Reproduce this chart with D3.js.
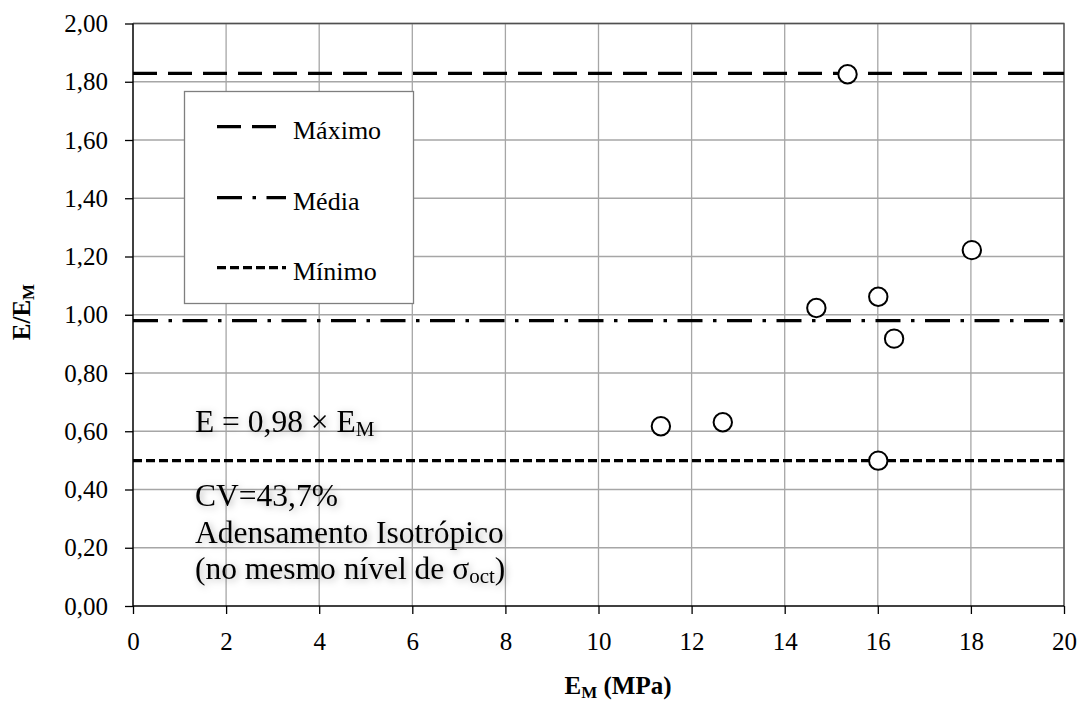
<!DOCTYPE html>
<html>
<head>
<meta charset="utf-8">
<script src="https://cdn.jsdelivr.net/npm/d3@7"></script>
<style>
  html, body { margin: 0; padding: 0; background: #fff; }
  svg, svg text { font-family: "Liberation Serif", "Times New Roman", serif; }
  svg { display: block; }
</style>
</head>
<body>
<svg id="chart" width="1079" height="704"></svg>
<script>
// Ensaios: módulo E_M (MPa) e razão E/E_M
const emValues = [11.34, 12.67, 14.68, 16.01, 16.35, 18.02, 16.01, 15.35];
const ratioValues = [0.617, 0.631, 1.023, 1.062, 0.918, 1.222, 0.499, 1.826];

// Linhas de referência
const refNames = ["Máximo", "Média", "Mínimo"];
const refValues = [1.829, 0.98, 0.499];

// Marcações dos eixos
const xTicks = [0, 2, 4, 6, 8, 10, 12, 14, 16, 18, 20];
const yTicks = [0, 0.2, 0.4, 0.6, 0.8, 1.0, 1.2, 1.4, 1.6, 1.8, 2.0];

const serif = "'Liberation Serif', 'Times New Roman', serif";
const svg = d3.select("#chart").attr("font-family", serif);
const pLeft = 133, pRight = 1064, pTop = 23.5, pBottom = 606;

const x = d3.scaleLinear().domain([0, 20]).range([pLeft, pRight]);
const y = d3.scaleLinear().domain([0, 2]).range([pBottom, pTop]);
const fmt = d => d3.format(".2f")(d).replace(".", ",");

// sombra suave do texto de anotação
const defs = svg.append("defs");
const f = defs.append("filter").attr("id", "softShadow")
  .attr("x", "-10%").attr("y", "-30%").attr("width", "130%").attr("height", "170%");
f.append("feDropShadow").attr("dx", 2).attr("dy", 2).attr("stdDeviation", 3.5)
  .attr("flood-color", "#000").attr("flood-opacity", 0.3);
defs.append("clipPath").attr("id", "plotClip").append("rect")
  .attr("x", pLeft).attr("y", pTop).attr("width", pRight - pLeft).attr("height", pBottom - pTop);

// grade
const grid = svg.append("g").attr("stroke", "#a6a6a6").attr("stroke-width", 1.3);
grid.selectAll("line.v").data(xTicks.slice(1)).join("line")
  .attr("x1", d => x(d)).attr("x2", d => x(d)).attr("y1", pTop).attr("y2", pBottom);
grid.selectAll("line.h").data(yTicks.slice(1)).join("line")
  .attr("x1", pLeft).attr("x2", pRight).attr("y1", d => y(d)).attr("y2", d => y(d));

// borda superior e direita
svg.append("path")
  .attr("d", `M${pLeft},${pTop}H${pRight}V${pBottom}`)
  .attr("fill", "none").attr("stroke", "#505050").attr("stroke-width", 1.3);

// eixos
const xAxis = svg.append("g").attr("transform", `translate(0,${pBottom})`)
  .call(d3.axisBottom(x).tickValues(xTicks).tickSize(8).tickPadding(26).tickFormat(d3.format("d")));
const yAxis = svg.append("g").attr("transform", `translate(${pLeft},0)`)
  .call(d3.axisLeft(y).tickValues(yTicks).tickSize(8).tickPadding(17).tickFormat(fmt));
[xAxis, yAxis].forEach(a => {
  a.attr("font-family", serif).attr("font-size", 25);
  a.select(".domain").attr("stroke", "#000").attr("stroke-width", 1.5);
  a.selectAll(".tick line").attr("stroke", "#000").attr("stroke-width", 1.3);
  a.selectAll(".tick text").attr("fill", "#000");
});
xAxis.selectAll(".tick text").attr("dy", "0.71em").attr("y", 26);
xAxis.select(".domain").attr("d", `M${pLeft},0H${pRight}`);
yAxis.select(".domain").attr("d", `M0,${pTop}V${pBottom}`);

// estilos das linhas de referência
const refStyles = [
  { dash: "24,11" },
  { dash: "25,10.5,3.5,10.5" },
  { dash: "9,4" }
];

const plot = svg.append("g").attr("clip-path", "url(#plotClip)");
plot.selectAll("line.ref").data(refValues).join("line")
  .attr("x1", pLeft).attr("x2", pRight)
  .attr("y1", d => y(d)).attr("y2", d => y(d))
  .attr("stroke", "#000").attr("stroke-width", 3.2)
  .attr("stroke-dasharray", (d, i) => refStyles[i].dash);

// pontos
svg.append("g").selectAll("circle").data(emValues).join("circle")
  .attr("cx", d => x(d)).attr("cy", (d, i) => y(ratioValues[i])).attr("r", 9.2)
  .attr("fill", "#fff").attr("stroke", "#000").attr("stroke-width", 2);

// legenda
const lg = svg.append("g");
lg.append("rect").attr("x", 184.5).attr("y", 91.5).attr("width", 229).attr("height", 212)
  .attr("fill", "#fff").attr("stroke", "#7f7f7f").attr("stroke-width", 1.3);
const legendY = [126.7, 197.7, 267.7];
const legendEnd = [279, 286, 286];
refNames.forEach((name, i) => {
  lg.append("line").attr("x1", 217).attr("x2", legendEnd[i])
    .attr("y1", legendY[i]).attr("y2", legendY[i])
    .attr("stroke", "#000").attr("stroke-width", 3.2)
    .attr("stroke-dasharray", refStyles[i].dash);
  lg.append("text").attr("x", 293).attr("y", legendY[i] + 12.5)
    .attr("font-size", 26).text(name);
});

// anotações
const note = svg.append("g").attr("font-size", 31.5).attr("filter", "url(#softShadow)");
const t1 = note.append("text").attr("x", 195).attr("y", 432);
t1.append("tspan").text("E = 0,98 × E");
t1.append("tspan").attr("font-size", 21).attr("dy", 4).text("M");
note.append("text").attr("x", 195).attr("y", 506).text("CV=43,7%");
note.append("text").attr("x", 195).attr("y", 542.5).text("Adensamento Isotrópico");
const t4 = note.append("text").attr("x", 195).attr("y", 578.5);
t4.append("tspan").text("(no mesmo nível de σ");
t4.append("tspan").attr("font-size", 21).attr("dy", 4).text("oct");
t4.append("tspan").attr("dy", -4).text(")");

// títulos dos eixos
const xt = svg.append("text").attr("x", 618).attr("y", 694).attr("text-anchor", "middle")
  .attr("font-size", 25).attr("font-weight", "bold");
xt.append("tspan").text("E");
xt.append("tspan").attr("font-size", 17).attr("dy", 4).text("M");
xt.append("tspan").attr("dy", -4).text(" (MPa)");

const yt = svg.append("text").attr("transform", "translate(30,312) rotate(-90)")
  .attr("text-anchor", "middle").attr("font-size", 25).attr("font-weight", "bold");
yt.append("tspan").text("E/E");
yt.append("tspan").attr("font-size", 17).attr("dy", 4).text("M");
</script>
</body>
</html>
